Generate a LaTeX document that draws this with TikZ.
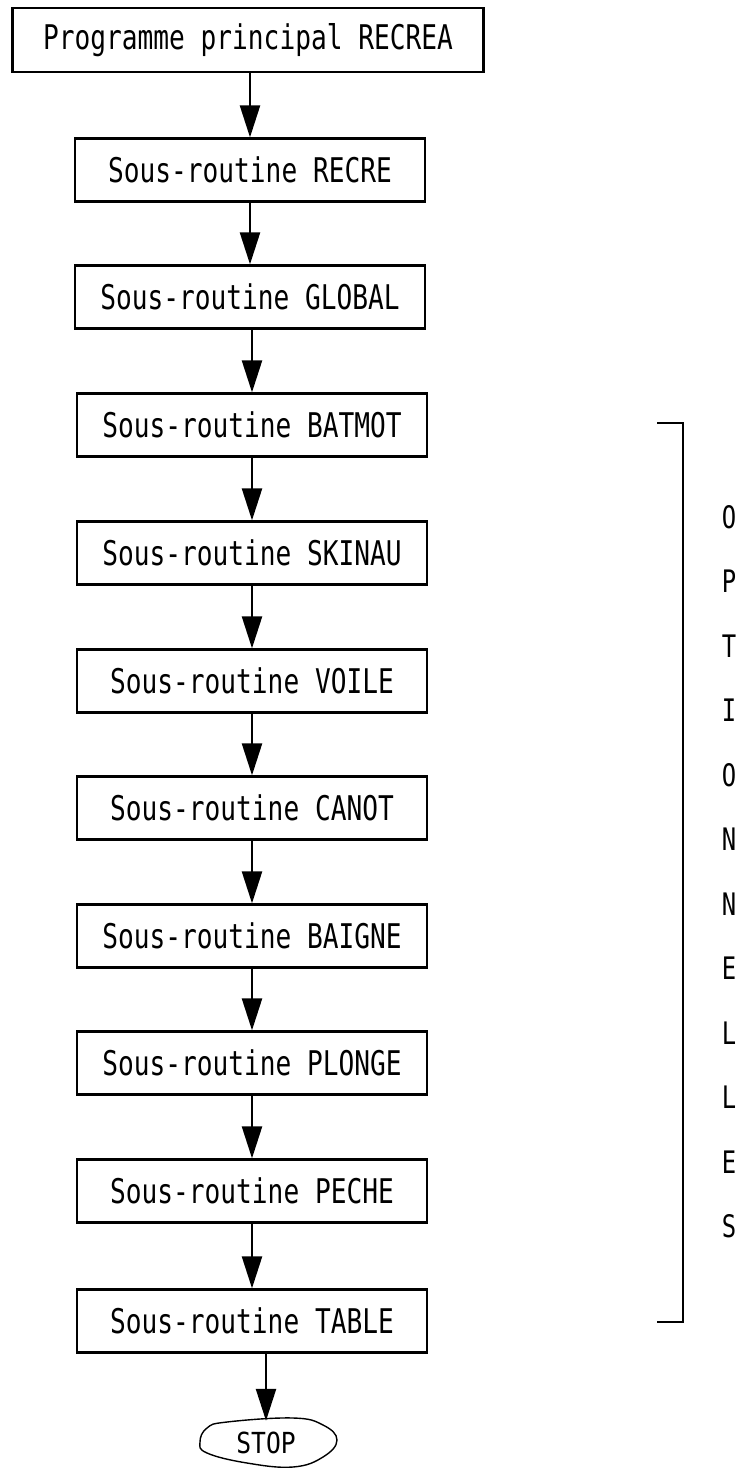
\documentclass[tikz,border=0pt]{standalone}
\usepackage{fontspec}
\newfontfamily\tw[FakeStretch=0.77]{DejaVu Sans Mono}
\newfontfamily\twstop[FakeStretch=0.85]{DejaVu Sans Mono}
\usetikzlibrary{arrows.meta}
\begin{document}
\begin{tikzpicture}[x=1pt,y=-1pt,
  box/.style={draw, line width=2.3pt, minimum width=350pt, minimum height=63pt, inner sep=0pt,
    font=\tw\fontsize{34}{34}\selectfont},
  flow/.style={line width=2.4pt, -{Triangle[length=32pt,width=20pt]}},
  side/.style={font=\tw\fontsize{31}{31}\selectfont, inner sep=0pt},
  brk/.style={line width=2.5pt}]
\useasboundingbox (0,0) rectangle (742,1476);
\node[box, minimum width=471pt, minimum height=64pt] (main) at (248,40) {Programme principal RECREA};
\node[box] (recre)  at (250,170)  {Sous-routine RECRE};
\node[box] (global) at (250,297)  {Sous-routine GLOBAL};
\node[box] (batmot) at (252,425)  {Sous-routine BATMOT};
\node[box] (skinau) at (252,553)  {Sous-routine SKINAU};
\node[box] (voile)  at (252,681)  {Sous-routine VOILE};
\node[box] (canot)  at (252,808)  {Sous-routine CANOT};
\node[box] (baigne) at (252,936)  {Sous-routine BAIGNE};
\node[box] (plonge) at (252,1063) {Sous-routine PLONGE};
\node[box] (peche)  at (252,1191) {Sous-routine PECHE};
\node[box] (table)  at (252,1321) {Sous-routine TABLE};
\node[font=\twstop\fontsize{29}{29}\selectfont, inner sep=0pt, minimum width=130pt, minimum height=44pt] (stop) at (266,1443) {STOP};
\draw[line width=1.4pt] plot[smooth cycle, tension=0.7] coordinates {(207,1428) (227,1422) (293,1418) (323,1425) (337,1440) (323,1457) (293,1467) (247,1463) (207,1453) (200,1442)};
\draw[flow] (recre.north |- main.south) -- (recre.north);
\draw[flow] (recre.south) -- (global.north);
\draw[flow] (batmot.north |- global.south) -- (batmot.north);
\draw[flow] (batmot) -- (skinau);
\draw[flow] (skinau) -- (voile);
\draw[flow] (voile) -- (canot);
\draw[flow] (canot) -- (baigne);
\draw[flow] (baigne) -- (plonge);
\draw[flow] (plonge) -- (peche);
\draw[flow] (peche) -- (table);
\draw[flow] (stop.north |- table.south) -- (stop.north);
\coordinate (b1) at (657,423);
\coordinate (b2) at (683,423);
\coordinate (b3) at (683,1322);
\coordinate (b4) at (657,1322);
\draw[brk] (b1) -- (b2) -- (b3) -- (b4);
\foreach \l [count=\i from 0] in {O,P,T,I,O,N,N,E,L,L,E,S} {
  \node[side] (opt\i) at (729,{517+64.5*\i}) {\l};
}
\end{tikzpicture}
\end{document}
